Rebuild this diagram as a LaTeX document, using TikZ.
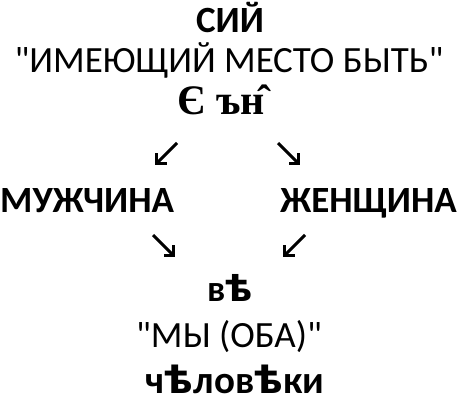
\documentclass[tikz,border=0pt]{standalone}
\usepackage{fontspec}
\setmainfont{Carlito}[Ligatures=TeXOff]
\newfontfamily\oldfont{Liberation Serif}
\newfontfamily\yatfont{DejaVu Sans}
\usetikzlibrary{arrows.meta}

\newcommand{\yat}{{\yatfont ѣ}}

\tikzset{
  word/.style={font=\bfseries\fontsize{37}{40}\selectfont, inner sep=0pt, anchor=base},
  gloss/.style={font=\fontsize{37}{40}\selectfont, inner sep=0pt, anchor=base},
  pointer/.style={line width=3pt, -{Straight Barb[angle=90:10pt]}}
}

\begin{document}
\begin{tikzpicture}[x=1pt, y=1pt]
			\useasboundingbox (0,0) rectangle (458,-403);
			
			% Верх
			\node[word] (sij) at (230,-33) {СИЙ};
			\node[gloss] (imej) at (229,-73) {"ИМЕЮЩИЙ МЕСТО БЫТЬ"};
			\node[word, font=\oldfont\bfseries\fontsize{42}{44}\selectfont] (jesn) at (221,-115) {Є ън̂};
			
			% Стрелки вниз
			\coordinate (a1) at (177,-143); \coordinate (b1) at (155,-165);
			\coordinate (a2) at (278,-143); \coordinate (b2) at (300,-165);
			\draw[pointer] (a1) -- (b1);
			\draw[pointer] (a2) -- (b2);
			
			% Середина
			\node[word, anchor=base west] (man) at (0,-213) {МУЖЧИНА};
			\node[word, anchor=base east] (woman) at (457,-213) {ЖЕНЩИНА};
			
			% Стрелки к низу
			\coordinate (a3) at (153,-235); \coordinate (b3) at (175,-257);
			\coordinate (a4) at (305,-235); \coordinate (b4) at (283,-257);
			\draw[pointer] (a3) -- (b3);
			\draw[pointer] (a4) -- (b4);
			
			% Низ
			\node[word] (ve) at (230,-302) {в\yat};
			\node[gloss] (oba) at (229,-348) {"МЫ (ОБА)"};
			\node[word, font=\bfseries\fontsize{39}{42}\selectfont] (chel) at (235,-393) {ч\yat лов\yat ки};
\end{tikzpicture}
\end{document}
